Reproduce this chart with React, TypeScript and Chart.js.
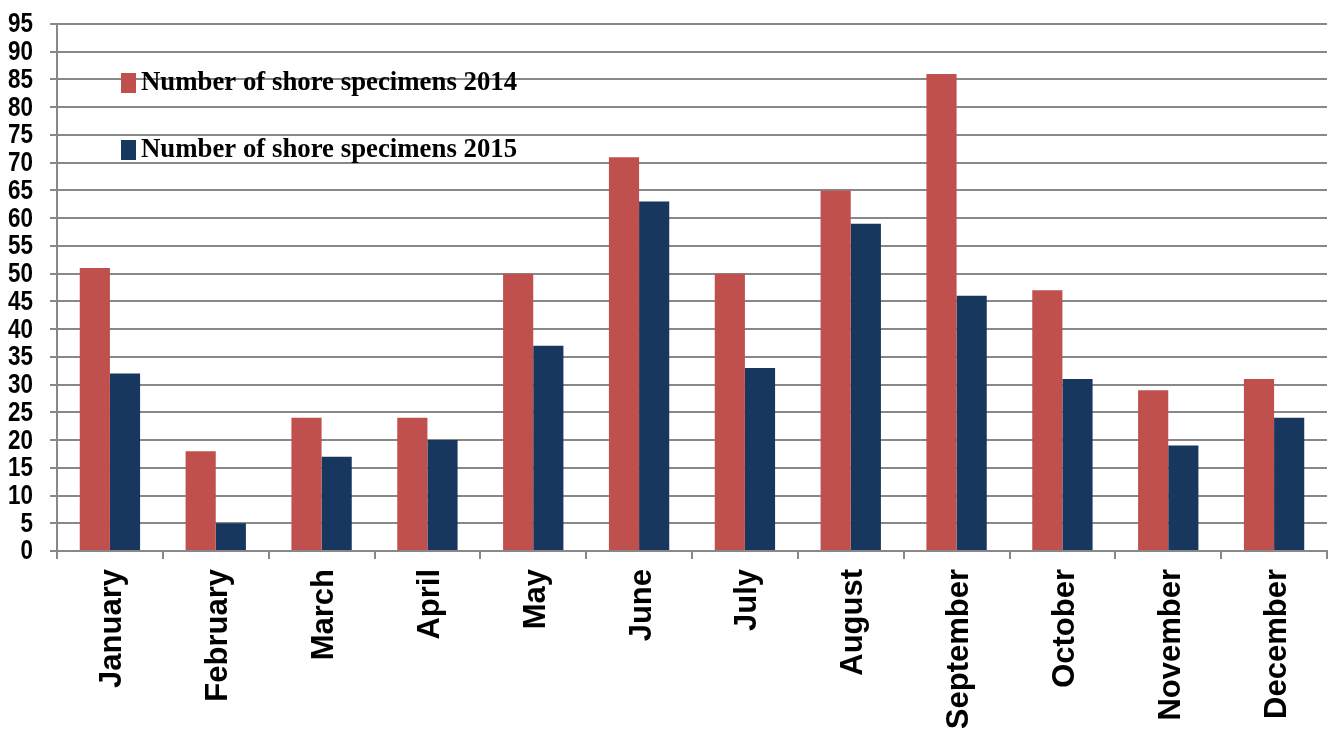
import React, { useEffect, useRef } from "react";
import { Chart, registerables } from "chart.js";

Chart.register(...registerables);

const months = ["January", "February", "March", "April", "May", "June", "July", "August", "September", "October", "November", "December"];
const series2014 = [51, 18, 24, 24, 50, 71, 50, 65, 86, 47, 29, 31];
const series2015 = [32, 5, 17, 20, 37, 63, 33, 59, 46, 31, 19, 24];
const label2014 = "Number of shore specimens 2014";
const label2015 = "Number of shore specimens 2015";

const legendPlugin = {
  id: "insideLegend",
  afterDraw(chart: any) {
    const ctx = chart.ctx;
    const rows = [83, 150];
    ctx.save();
    chart.data.datasets.forEach((ds: any, i: number) => {
      const y = rows[i];
      ctx.fillStyle = ds.backgroundColor;
      ctx.fillRect(121, y - 10, 15, 20);
      ctx.fillStyle = "#000";
      ctx.font = "bold 28px 'Liberation Serif', serif";
      ctx.textBaseline = "middle";
      ctx.textAlign = "left";
      ctx.save();
      ctx.translate(141, y);
      ctx.scale(0.957, 1);
      ctx.fillText(ds.label, 0, 0);
      ctx.restore();
    });
    ctx.restore();
  },
};

const yLabelPlugin = {
  id: "yLabels",
  afterDraw(chart: any) {
    const ctx = chart.ctx;
    const scale = chart.scales.y;
    ctx.save();
    ctx.fillStyle = "#000";
    ctx.font = "bold 27px 'Liberation Sans', Arial, sans-serif";
    ctx.textAlign = "right";
    ctx.textBaseline = "middle";
    scale.ticks.forEach((t: any) => {
      const y = scale.getPixelForValue(t.value);
      ctx.save();
      ctx.translate(33, y + 1);
      ctx.scale(0.83, 1);
      ctx.fillText(String(t.value), 0, 0);
      ctx.restore();
    });
    ctx.restore();
  },
};

export default function App() {
  const ref = useRef<HTMLCanvasElement>(null);
  useEffect(() => {
    document.body.style.margin = "0";
    const chart = new Chart(ref.current!, {
      type: "bar",
      data: {
        labels: months,
        datasets: [
          { label: label2014, data: series2014, backgroundColor: "#C0504D", categoryPercentage: 0.57, barPercentage: 1 },
          { label: label2015, data: series2015, backgroundColor: "#17375E", categoryPercentage: 0.57, barPercentage: 1 },
        ],
      },
      options: {
        animation: false,
        responsive: false,
        layout: { padding: { top: 24, right: 7, left: 0, bottom: 0 } },
        plugins: { legend: { display: false }, tooltip: { enabled: false } },
        scales: {
          x: {
            grid: { drawOnChartArea: false, drawTicks: true, tickLength: 8, color: "#888", lineWidth: 2, offset: true },
            border: { color: "#888", width: 2 },
            ticks: {
              minRotation: 90,
              maxRotation: 90,
              autoSkip: false,
              padding: 10,
              labelOffset: 3,
              color: "#000",
              font: { family: "'Liberation Sans', Arial, sans-serif", size: 31, weight: "bold" },
            },
            afterFit(scale: any) { scale.height = 185; },
          },
          y: {
            min: 0,
            max: 95,
            ticks: {
              stepSize: 5,
              autoSkip: false,
              display: false,
            },
            grid: { color: "#888", lineWidth: 2, tickLength: 7 },
            border: { color: "#888", width: 2 },
            afterFit(scale: any) { scale.width = 57; },
          },
        },
      },
      plugins: [legendPlugin, yLabelPlugin],
    });
    return () => chart.destroy();
  }, []);
  return (
    <div style={{ width: 1334, height: 736 }}>
      <canvas ref={ref} width={1334} height={736} />
    </div>
  );
}
